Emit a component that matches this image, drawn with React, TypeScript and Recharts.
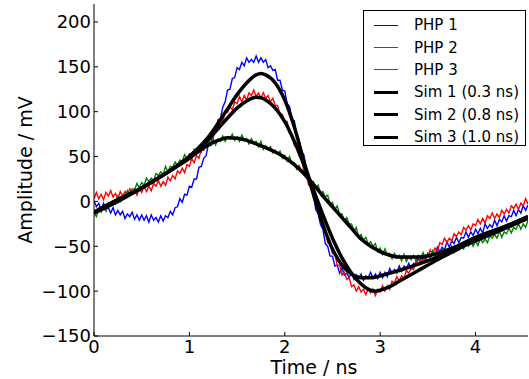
import { LineChart, Line, XAxis, YAxis, Legend } from 'recharts'

// sample times of the measured traces (ns)
const noiseT = [
  0, 0.025, 0.05, 0.075, 0.1, 0.125, 0.15, 0.175,
  0.2, 0.225, 0.25, 0.275, 0.3, 0.325, 0.35, 0.375,
  0.4, 0.425, 0.45, 0.475, 0.5, 0.525, 0.55, 0.575,
  0.6, 0.625, 0.65, 0.675, 0.7, 0.725, 0.75, 0.775,
  0.8, 0.825, 0.85, 0.875, 0.9, 0.925, 0.95, 0.975,
  1, 1.025, 1.05, 1.075, 1.1, 1.125, 1.15, 1.175,
  1.2, 1.225, 1.25, 1.275, 1.3, 1.325, 1.35, 1.375,
  1.4, 1.425, 1.45, 1.475, 1.5, 1.525, 1.55, 1.575,
  1.6, 1.625, 1.65, 1.675, 1.7, 1.725, 1.75, 1.775,
  1.8, 1.825, 1.85, 1.875, 1.9, 1.925, 1.95, 1.975,
  2, 2.025, 2.05, 2.075, 2.1, 2.125, 2.15, 2.175,
  2.2, 2.225, 2.25, 2.275, 2.3, 2.325, 2.35, 2.375,
  2.4, 2.425, 2.45, 2.475, 2.5, 2.525, 2.55, 2.575,
  2.6, 2.625, 2.65, 2.675, 2.7, 2.725, 2.75, 2.775,
  2.8, 2.825, 2.85, 2.875, 2.9, 2.925, 2.95, 2.975,
  3, 3.025, 3.05, 3.075, 3.1, 3.125, 3.15, 3.175,
  3.2, 3.225, 3.25, 3.275, 3.3, 3.325, 3.35, 3.375,
  3.4, 3.425, 3.45, 3.475, 3.5, 3.525, 3.55, 3.575,
  3.6, 3.625, 3.65, 3.675, 3.7, 3.725, 3.75, 3.775,
  3.8, 3.825, 3.85, 3.875, 3.9, 3.925, 3.95, 3.975,
  4, 4.025, 4.05, 4.075, 4.1, 4.125, 4.15, 4.175,
  4.2, 4.225, 4.25, 4.275, 4.3, 4.325, 4.35, 4.375,
  4.4, 4.425, 4.45, 4.475, 4.5, 4.525, 4.55,
]

const php1 = [
  1, -6, -2, -9, -2, -9, -7, -13,
  -7, -15, -10, -15, -11, -19, -14, -17,
  -12, -20, -15, -21, -15, -21, -16, -23,
  -15, -21, -18, -23, -16, -22, -16, -18,
  -11, -15, -7, -6, 3, -1, 8, 7,
  17, 16, 25, 25, 38, 39, 48, 51,
  64, 64, 75, 79, 91, 92, 105, 111,
  124, 125, 137, 138, 149, 147, 155, 151,
  160, 155, 158, 155, 162, 155, 160, 155,
  158, 149, 151, 146, 147, 135, 135, 124,
  123, 109, 106, 91, 90, 75, 69, 55,
  52, 34, 28, 14, 8, -9, -14, -26,
  -31, -47, -50, -61, -61, -72, -71, -80,
  -74, -82, -80, -85, -79, -87, -82, -86,
  -81, -88, -83, -85, -79, -86, -81, -86,
  -79, -85, -79, -84, -75, -80, -76, -80,
  -72, -78, -72, -75, -69, -75, -69, -70,
  -63, -69, -62, -66, -58, -63, -56, -61,
  -51, -56, -51, -54, -45, -51, -44, -47,
  -40, -46, -40, -41, -34, -40, -34, -38,
  -31, -36, -30, -35, -25, -30, -26, -29,
  -21, -27, -20, -23, -16, -22, -16, -17,
  -10, -16, -9, -13, -5, -10, -4,
]

const php2 = [
  3, 10, 3, 8, 2, 10, 6, 12,
  5, 9, 3, 11, 6, 11, 6, 14,
  9, 14, 7, 14, 10, 17, 11, 17,
  12, 20, 17, 23, 17, 22, 18, 27,
  23, 29, 25, 34, 31, 37, 32, 41,
  39, 48, 43, 51, 48, 58, 57, 66,
  63, 72, 71, 83, 82, 90, 89, 100,
  99, 106, 102, 111, 109, 117, 111, 118,
  113, 121, 118, 124, 117, 121, 115, 121,
  115, 118, 111, 115, 107, 107, 96, 97,
  88, 89, 76, 75, 62, 62, 51, 49,
  34, 31, 18, 17, 4, 0, -13, -14,
  -27, -31, -46, -47, -58, -58, -71, -71,
  -82, -79, -87, -85, -95, -93, -100, -95,
  -101, -98, -104, -97, -102, -98, -105, -98,
  -101, -94, -100, -94, -98, -89, -91, -84,
  -89, -83, -86, -77, -80, -74, -76, -67,
  -70, -64, -68, -60, -62, -54, -59, -52,
  -55, -46, -48, -41, -46, -41, -44, -36,
  -39, -34, -37, -29, -32, -27, -32, -25,
  -27, -20, -25, -19, -24, -16, -19, -13,
  -19, -14, -18, -10, -14, -9, -13, -5,
  -8, -3, -9, -2, -5, 3, -3,
]

const php3 = [
  -13, -17, -8, -12, -7, -11, -2, -5,
  0, -3, 6, 0, 6, 5, 12, 8,
  14, 13, 20, 15, 21, 18, 26, 22,
  26, 23, 31, 29, 33, 30, 39, 33,
  39, 38, 44, 40, 46, 45, 52, 47,
  53, 50, 58, 54, 58, 55, 64, 62,
  66, 62, 70, 63, 69, 67, 73, 67,
  72, 70, 75, 68, 72, 67, 74, 68,
  70, 64, 70, 65, 67, 61, 67, 58,
  62, 58, 61, 54, 57, 53, 56, 48,
  51, 45, 50, 42, 43, 36, 40, 34,
  35, 27, 31, 20, 22, 16, 18, 9,
  11, 5, 7, -3, -1, -9, -5, -14,
  -14, -22, -18, -25, -25, -33, -29, -40,
  -37, -43, -40, -48, -45, -50, -47, -56,
  -52, -59, -53, -60, -58, -64, -58, -63,
  -60, -66, -59, -67, -62, -65, -60, -66,
  -60, -63, -57, -64, -58, -63, -55, -61,
  -57, -61, -53, -57, -53, -58, -50, -57,
  -51, -54, -48, -53, -47, -50, -44, -50,
  -44, -49, -41, -46, -42, -46, -38, -41,
  -37, -41, -33, -40, -34, -36, -30, -35,
  -29, -31, -25, -31, -25, -29, -21,
]

// simulated pulses
const simT = [
  0, 0.25, 0.5, 0.75, 1, 1.1, 1.2, 1.3, 1.4, 1.5,
  1.6, 1.7, 1.75, 1.8, 1.9, 2, 2.1, 2.2, 2.3, 2.4,
  2.5, 2.6, 2.7, 2.8, 2.9, 2.95, 3, 3.1, 3.2, 3.4,
  3.6, 3.8, 4, 4.2, 4.4, 4.55,
]
const sim1 = [
  -12, 2, 15, 31, 50, 60, 72, 87, 103, 119,
  132, 141, 142.5, 141, 132, 113, 83, 45, 8, -26,
  -53, -71, -81, -85, -85, -84.5, -83, -80, -77, -70,
  -62, -53, -44, -35, -26, -19,
]
const sim2 = [
  -12, 2, 15, 31, 50, 59, 69, 81, 93, 104,
  112, 116, 115.5, 113, 104, 89, 67, 41, 13, -15,
  -41, -63, -80, -92, -99, -100, -99, -95, -89, -77,
  -65, -54, -43, -33, -24, -17,
]
const sim3 = [
  -13, 0, 15, 31, 48, 56, 63, 68, 71, 70.5,
  68, 64, 62, 60, 55, 49, 41, 31, 19, 6,
  -6, -18, -30, -42, -50, -53, -56, -60, -62, -62,
  -58, -50, -40, -32, -24, -17,
]

const xTicks = [0, 1, 2, 3, 4]
const yTicks = [-150, -100, -50, 0, 50, 100, 150, 200]

const font = '"DejaVu Sans", sans-serif'

function zip(t: number[], v: number[]) {
  return t.map((x, i) => ({ t: x, v: v[i] }))
}

const series = [
  { name: 'PHP 1', data: zip(noiseT, php1), color: '#0000ff', width: 1.4, curve: 'linear' },
  { name: 'PHP 2', data: zip(noiseT, php2), color: '#ff0000', width: 1.4, curve: 'linear' },
  { name: 'PHP 3', data: zip(noiseT, php3), color: '#008000', width: 1.4, curve: 'linear' },
  { name: 'Sim 1 (0.3 ns)', data: zip(simT, sim1), color: '#000000', width: 3.5, curve: 'monotone' },
  { name: 'Sim 2 (0.8 ns)', data: zip(simT, sim2), color: '#000000', width: 3.5, curve: 'monotone' },
  { name: 'Sim 3 (1.0 ns)', data: zip(simT, sim3), color: '#000000', width: 3.5, curve: 'monotone' },
]

const fmt = (v: number) => String(v).replace('-', '\u2212')
const blank = () => ''

function LegendBox() {
  return (
    <div style={{
      width: 161, height: 131, border: '1px solid #000', background: '#fff',
      paddingTop: 3, boxSizing: 'content-box', fontFamily: font, fontSize: 15, color: '#000',
    }}>
      {series.map((s) => (
        <div key={s.name} style={{ display: 'flex', alignItems: 'center', height: 22.4 }}>
          <div style={{ marginLeft: 10, width: 24, height: s.width > 2 ? 3 : 1, background: s.color }} />
          <span style={{ marginLeft: 16, lineHeight: '22px' }}>{s.name}</span>
        </div>
      ))}
    </div>
  )
}

export default function App() {
  return (
    <div style={{ position: 'absolute', left: 0, top: 0, width: 529, height: 379, background: '#fff' }}>
      <LineChart width={529} height={379} margin={{ top: 4, right: 1, bottom: 0, left: 0 }}>
        <XAxis
          xAxisId="b" type="number" dataKey="t" domain={[0, 4.55]} ticks={xTicks}
          height={43} allowDataOverflow stroke="#000" tickSize={-4} tickMargin={8}
          tick={{ fill: '#000', fontSize: 18, fontFamily: font }}
          label={{
            content: () => (
              <text x={314} y={374} textAnchor="middle" fontSize={19} fontFamily={font} fill="#000">Time / ns</text>
            ),
          }}
        />
        <XAxis
          xAxisId="t" orientation="top" type="number" dataKey="t" domain={[0, 4.55]} ticks={xTicks}
          height={0} allowDataOverflow stroke="#000" tickSize={-4} tickFormatter={blank}
        />
        <YAxis
          yAxisId="l" type="number" domain={[-150, 220]} ticks={yTicks} width={94}
          allowDataOverflow stroke="#000" tickSize={-4} tickMargin={7} tickFormatter={fmt}
          tick={{ fill: '#000', fontSize: 18, fontFamily: font }}
          label={{
            content: () => (
              <text x={32} y={170} transform="rotate(-90 32 170)" textAnchor="middle" fontSize={19} fontFamily={font} fill="#000">Amplitude / mV</text>
            ),
          }}
        />
        <YAxis
          yAxisId="r" orientation="right" type="number" domain={[-150, 220]} ticks={yTicks} width={0}
          allowDataOverflow stroke="#000" tickSize={-4} tickFormatter={blank}
        />
        {series.map((s) => (
          <Line
            key={s.name}
            xAxisId="b"
            yAxisId="l"
            data={s.data}
            dataKey="v"
            name={s.name}
            type={s.curve as 'linear' | 'monotone'}
            stroke={s.color}
            strokeWidth={s.width}
            dot={false}
            activeDot={false}
            isAnimationActive={false}
          />
        ))}
        <Legend
          layout="horizontal" verticalAlign="middle" align="center"
          wrapperStyle={{ left: 363, top: 10, width: 163, height: 135 }}
          content={() => <LegendBox />}
        />
      </LineChart>
    </div>
  )
}
